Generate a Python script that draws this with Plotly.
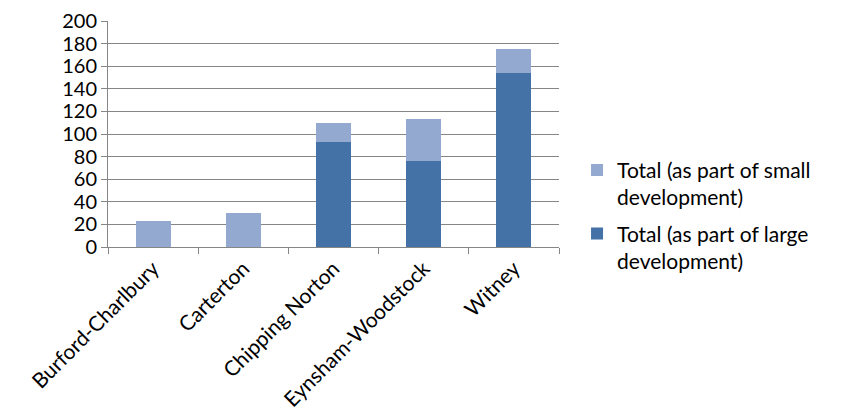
import plotly.graph_objects as go

categories = ["Burford-Charlbury", "Carterton", "Chipping Norton", "Eynsham-Woodstock", "Witney"]
large_dev = [0, 0, 93, 76, 154]
small_dev = [23, 30, 17, 37, 21]
y_ticks = [0, 20, 40, 60, 80, 100, 120, 140, 160, 180, 200]

FONT = "Lato"
GRID = "#868686"

fig = go.Figure()
fig.add_trace(go.Bar(
    x=categories, y=large_dev, name="Total (as part of large<br>development)",
    legendgroup="large", legendrank=2,
    marker=dict(color="#4472A7", line=dict(width=0)),
))
fig.add_trace(go.Bar(
    x=categories, y=small_dev, name="Total (as part of small<br>development)",
    legendgroup="small", legendrank=1,
    marker=dict(color="#94A9CF", line=dict(width=0)),
))

fig.update_layout(
    width=854, height=410,
    barmode="stack", bargap=0.61,
    paper_bgcolor="white", plot_bgcolor="white",
    margin=dict(l=100, r=303, t=13, b=171, autoexpand=False),
    font=dict(family=FONT, size=21, color="#000000"),
    showlegend=True,
    legend=dict(
        x=1.04, xanchor="left", y=0.43, yanchor="top",
        traceorder="grouped", valign="top",
        font=dict(family=FONT, size=21, color="#000000"),
        tracegroupgap=6, itemwidth=30,
        bgcolor="rgba(0,0,0,0)",
    ),
    xaxis=dict(
        type="category", tickangle=-45, automargin=False,
        showline=True, linecolor=GRID, linewidth=1,
        ticks="outside", tickson="boundaries", ticklen=6, tickcolor=GRID,
        showgrid=False, ticklabeloverflow="allow",
        tickfont=dict(family=FONT, size=21),
    ),
    yaxis=dict(
        range=[0, 200], tickvals=y_ticks, ticktext=[str(v) for v in y_ticks],
        automargin=False, ticklabeloverflow="allow",
        showline=True, linecolor=GRID, linewidth=1,
        ticks="outside", ticklen=6, tickcolor=GRID,
        showgrid=True, gridcolor=GRID, gridwidth=1,
        zeroline=False,
        tickfont=dict(family=FONT, size=20),
    ),
)

fig.write_html("out.html")
